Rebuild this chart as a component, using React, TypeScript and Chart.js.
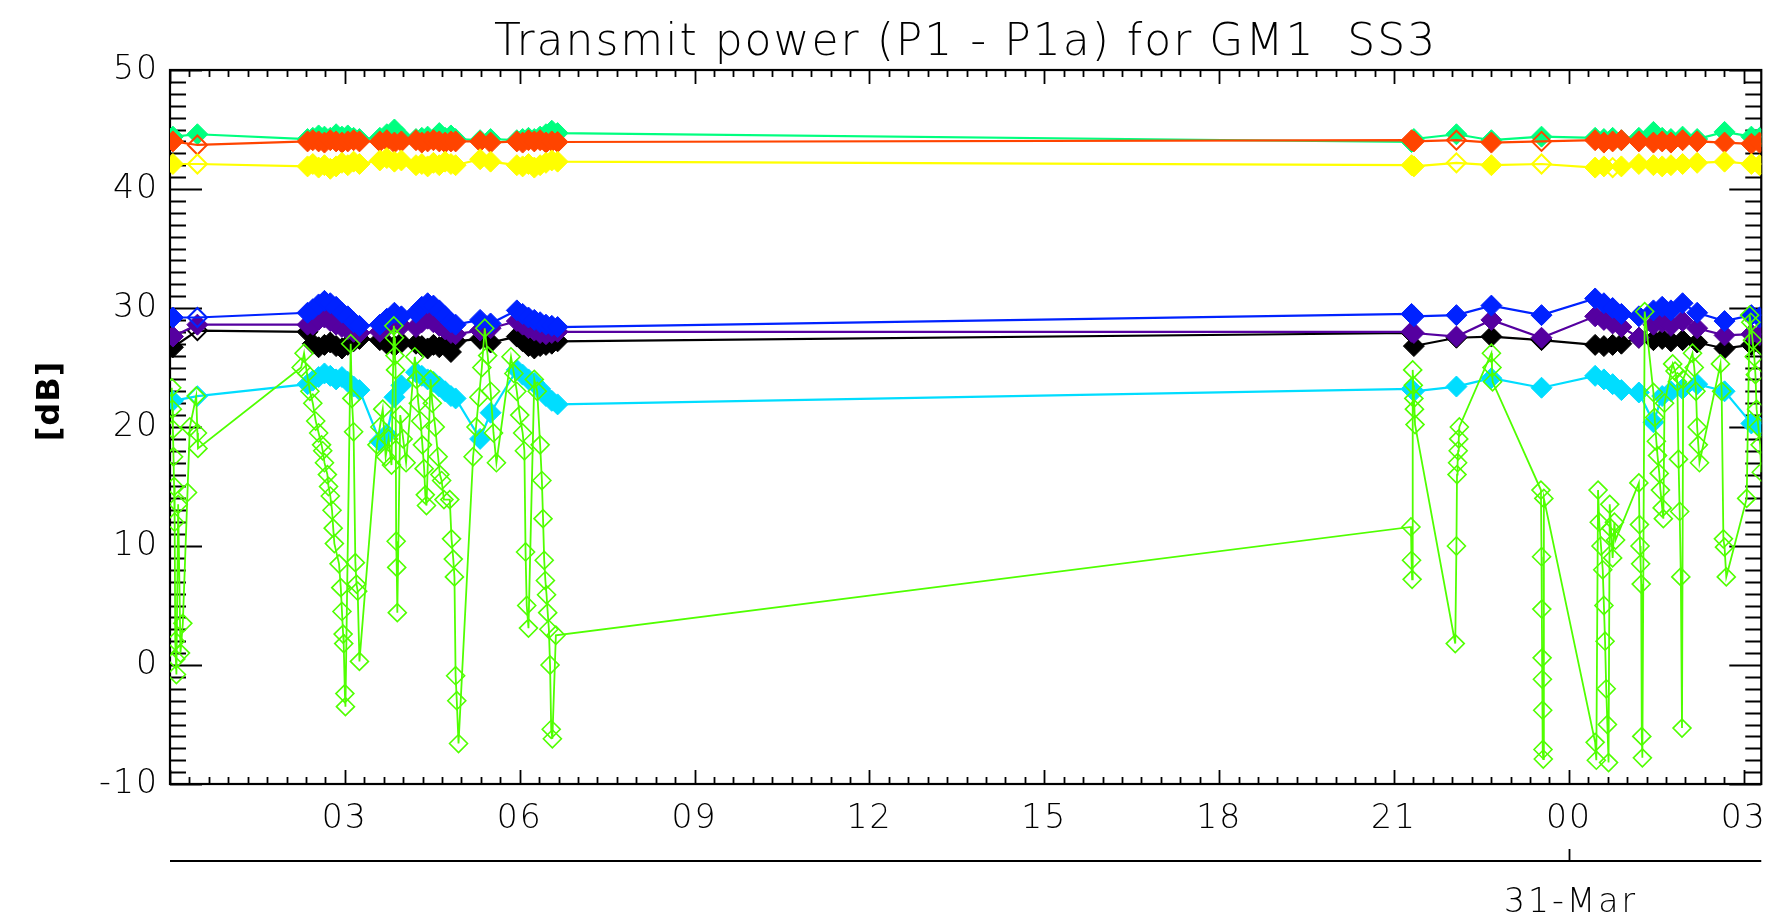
import React, { useEffect, useRef } from 'react';
import { Chart, registerables } from 'chart.js';

Chart.register(...registerables);

// ---------- data ----------
const TITLE = 'Transmit power (P1 - P1a) for GM1  SS3';
const Y_TITLE = '[dB]';
const DATE_LABEL = '31-Mar';
const DATE_LABEL_HOUR = 24;

// hours since 30-Mar 00:00
const hourTickValues = [3, 6, 9, 12, 15, 18, 21, 24, 27];
const hourTickLabels = ['03', '06', '09', '12', '15', '18', '21', '00', '03'];
const yTickValues = [-10, 0, 10, 20, 30, 40, 50];
const yTickLabels = ['-10', '0', '10', '20', '30', '40', '50'];

const times = [
  0.05, 0.47, 2.36, 2.45, 2.55, 2.65, 2.75, 2.85, 2.95, 3.05, 3.15, 3.25, 3.6, 3.72, 3.85, 3.97,
  4.22, 4.32, 4.42, 4.52, 4.62, 4.72, 4.82, 4.9, 5.32, 5.5, 5.95, 6.05, 6.15, 6.25, 6.35, 6.45,
  6.55, 6.65, 21.3, 21.34, 22.07, 22.67, 23.53, 24.45, 24.6, 24.75, 24.9, 25.2, 25.45, 25.6,
  25.75, 25.95, 26.2, 26.67, 27.13, 27.27,
];

const springGreenSeries = [
  44.4, 44.6, 44.2, 44.3, 44.5, 44.4, 44.3, 44.6, 44.4, 44.5, 44.3, 44.2, 44.3, 44.6, 45.0, 44.4,
  44.2, 44.3, 44.4, 44.2, 44.7, 44.3, 44.5, 44.2, 44.1, 44.2, 44.1, 44.2, 44.3, 44.2, 44.4, 44.6,
  44.9, 44.7, 43.95, 44.2, 44.6, 44.1, 44.4, 44.3, 44.2, 44.3, 44.1, 44.3, 44.8, 44.3,
  44.2, 44.4, 44.2, 44.8, 44.4, 44.3,
];

const redSeries = [
  44.0, 43.7, 44.0, 44.1, 44.0, 43.9, 44.1, 44.0, 43.9, 44.0, 44.1, 44.0, 44.0, 44.1, 43.9, 44.0,
  44.1, 43.9, 44.0, 44.1, 44.0, 43.9, 44.0, 44.0, 44.0, 43.9, 44.0, 43.9, 44.1, 44.0, 44.1, 43.9,
  44.0, 43.95, 44.1, 44.0, 44.1, 43.9, 44.0, 44.1, 43.9, 44.0, 44.1, 44.0, 43.9, 44.0,
  43.9, 44.1, 44.0, 43.9, 43.8, 43.9,
];

const yellowSeries = [
  42.1, 42.1, 41.9, 42.1, 41.8, 42.0, 41.7, 41.9, 42.2, 42.0, 42.3, 42.1, 42.4, 42.6, 42.3, 42.4,
  42.0, 42.1, 41.9, 42.2, 42.0, 42.3, 42.1, 42.0, 42.5, 42.3, 42.0, 41.9, 42.1, 41.8, 42.0, 42.2,
  42.4, 42.3, 42.0, 41.9, 42.2, 42.0, 42.1, 41.8, 41.9, 41.8, 41.9, 42.1, 42.0, 41.9,
  42.0, 42.1, 42.2, 42.3, 42.1, 42.0,
];

const blueSeries = [
  29.2, 29.2, 29.6, 29.9, 30.3, 30.6, 30.4, 30.1, 29.6, 29.3, 28.8, 28.5, 28.6, 29.1, 29.6, 29.3,
  29.6, 30.1, 30.4, 30.2, 29.8, 29.3, 28.8, 28.6, 29.0, 28.7, 29.8, 29.5, 29.2, 29.0, 28.8, 28.6,
  28.5, 28.4, 29.5, 29.3, 29.4, 30.2, 29.4, 30.8, 30.4, 30.0, 29.5, 29.3, 29.8, 30.1,
  29.8, 30.4, 29.6, 28.9, 29.4, 29.2,
];

const purpleSeries = [
  27.6, 28.6, 28.6, 28.6, 29.0, 29.2, 28.9, 28.6, 28.4, 28.2, 28.0, 27.9, 28.0, 28.4, 28.8, 28.5,
  28.4, 28.8, 29.1, 28.8, 28.5, 28.2, 27.9, 27.8, 28.1, 28.3, 28.9, 28.6, 28.3, 28.1, 27.9, 27.8,
  27.9, 28.0, 28.0, 27.9, 27.6, 29.0, 27.5, 29.3, 29.0, 28.7, 28.4, 27.5, 28.6, 28.8,
  28.5, 28.9, 28.3, 27.7, 27.8, 27.7,
];

const blackSeries = [
  26.7, 28.1, 28.0, 27.0, 26.7, 26.9, 27.1, 26.8, 26.6, 26.9, 27.2, 27.4, 27.3, 27.0, 26.8, 27.1,
  27.0, 26.8, 26.6, 26.9, 26.7, 27.0, 26.3, 27.2, 27.4, 27.1, 27.6, 27.2, 26.8, 26.6, 26.8, 26.9,
  27.0, 27.2, 27.9, 26.8, 27.5, 27.6, 27.3, 26.9, 26.8, 26.9, 27.0, 27.5, 27.3, 27.4,
  27.2, 27.3, 27.1, 26.6, 26.9, 27.0,
];

const cyanSeries = [
  22.2, 22.6, 23.6, 23.9, 24.2, 24.5, 24.3, 24.0, 24.2, 23.8, 23.4, 23.1, 18.8, 19.4, 22.5, 23.5,
  24.6, 24.3, 24.0, 23.8, 23.4, 23.0, 22.6, 22.4, 19.0, 21.2, 24.8, 24.4, 24.0, 23.7, 23.2, 22.6,
  22.2, 21.9, 23.2, 23.0, 23.4, 24.1, 23.3, 24.3, 24.0, 23.6, 23.1, 22.9, 20.4, 22.6,
  23.0, 23.2, 23.6, 23.0, 20.3, 20.0,
];

const greenTimes = [
  0.03, 0.04, 0.05, 0.06, 0.07, 0.08, 0.09, 0.1, 0.11, 0.14, 0.18, 0.22, 0.3, 0.34, 0.45, 0.47, 0.48,
  2.25, 2.3, 2.35, 2.4, 2.45, 2.5, 2.55, 2.6, 2.62, 2.65, 2.7, 2.72, 2.75, 2.78, 2.8, 2.82,
  2.9, 2.93, 2.95, 2.97, 2.98, 3.0, 3.01, 3.1, 3.12, 3.15, 3.18, 3.2, 3.22, 3.25,
  3.55, 3.6, 3.65, 3.7, 3.75, 3.8, 3.84, 3.85, 3.86, 3.87, 3.88, 3.89, 3.9, 3.95, 4.0, 4.05,
  4.2, 4.23, 4.26, 4.3, 4.33, 4.36, 4.38, 4.4, 4.47, 4.5, 4.55, 4.6, 4.63, 4.66, 4.7,
  4.8, 4.83, 4.86, 4.88, 4.9, 4.92, 4.95,
  5.2, 5.25, 5.3, 5.35, 5.4, 5.45, 5.5, 5.55, 5.6,
  5.85, 5.9, 5.95, 6.0, 6.05, 6.08, 6.1, 6.12, 6.15,
  6.25, 6.3, 6.35, 6.38, 6.4, 6.42, 6.44, 6.46, 6.48, 6.5, 6.52, 6.54, 6.56, 6.62,
  21.29, 21.3, 21.31, 21.32, 21.33, 21.34, 21.35, 21.36,
  22.05, 22.07, 22.08, 22.09, 22.1, 22.11, 22.12, 22.67, 22.68, 22.69,
  23.52, 23.53, 23.535, 23.54, 23.545, 23.55, 23.555, 23.56, 23.57,
  24.45, 24.47, 24.5, 24.52, 24.55, 24.58, 24.6, 24.62, 24.64, 24.66, 24.68, 24.7, 24.72, 24.75, 24.78, 24.8,
  25.2, 25.21, 25.22, 25.23, 25.24, 25.25, 25.26, 25.3,
  25.45, 25.47, 25.5, 25.52, 25.55, 25.57, 25.6, 25.62, 25.64,
  25.78, 25.82, 25.86, 25.88, 25.9, 25.92, 25.94, 25.96,
  26.12, 26.15, 26.18, 26.2, 26.22, 26.24,
  26.6, 26.62, 26.65, 26.67, 26.7,
  27.05, 27.1, 27.12, 27.15, 27.18, 27.2, 27.22, 27.25, 27.28, 27.3,
];

const greenValues = [
  23.3, 21.5, 19.8, 17.5, 15.0, 12.0, 2.0, 0.5, -0.8, 13.5, 1.0, 3.5, 14.5, 20.0, 22.6, 19.5, 18.2,
  25.0, 26.2, 24.5, 23.0, 22.0, 20.5, 19.5, 18.5, 18.0, 17.0, 16.0, 15.0, 14.2, 13.0, 11.5, 10.2,
  8.5, 6.5, 4.5, 2.6, 1.8, -2.4, -3.5, 27.0, 22.4, 19.6, 8.6, 6.8, 6.2, 0.3,
  18.5, 20.0, 21.5, 17.5, 19.0, 16.8, 28.5, 27.5, 26.0, 24.8, 10.4, 8.2, 4.4, 21.0, 19.0, 17.0,
  25.9, 24.0, 22.0, 20.5, 18.5, 16.5, 14.3, 13.4, 24.0, 22.0, 20.0, 17.5, 16.0, 15.5, 13.9,
  13.9, 10.6, 8.9, 7.4, -0.9, -3.0, -6.6,
  17.5, 20.0, 22.5, 25.0, 28.3, 26.0, 23.0, 19.5, 17.0,
  25.9, 24.5, 23.0, 21.0, 19.5, 18.0, 9.5, 5.0, 3.1,
  24.0, 23.0, 18.5, 15.5, 12.3, 8.8, 7.1, 5.9, 4.4, 3.0, 0.0, -5.4, -6.2, 2.5,
  11.6, 8.8, 7.2, 24.8, 23.5, 22.4, 21.5, 20.2,
  1.8, 10.0, 16.0, 17.0, 18.0, 19.0, 20.0, 26.2, 25.0, 23.8,
  14.7, 9.1, 4.7, 0.6, -1.2, -3.8, -7.1, -7.9, 14.0,
  -6.5, -8.0, 14.7, 12.0, 10.0, 8.0, 5.0, 2.0, -2.0, -5.0, -8.2, 13.5, 11.5, 9.0, 12.0, 10.5,
  15.3, 11.8, 10.0, 8.5, 6.8, -6.0, -7.8, 29.7,
  22.9, 20.8, 18.8, 17.6, 16.1, 14.7, 13.2, 12.3, 22.0,
  25.3, 24.7, 23.8, 17.3, 12.9, 7.4, -5.3, 24.0,
  26.2, 25.0, 23.0, 20.0, 18.5, 17.0,
  25.3, 23.0, 10.6, 9.9, 7.4,
  14.0, 29.4, 28.8, 27.3, 25.9, 24.4, 21.5, 20.0, 18.5, 16.2,
];

// ---------- layout / style ----------
const W = 1781;
const H = 922;
const PLOT_LEFT = 170;
const PLOT_RIGHT = 1763;
const PLOT_TOP = 70;
const PLOT_BOTTOM = 784;
const X_MIN = 0;
const X_MAX = 27.3;
const FONT = '"DejaVu Sans", "Liberation Sans", sans-serif';
// indices (into `times`) drawn as open diamonds, per series
const HOLLOW_ALL = [1];
const HOLLOW_RED = [1, 36, 38];
const HOLLOW_YELLOW = [1, 36, 38, 41];

export default function App() {
  const ref = useRef<HTMLCanvasElement | null>(null);

  useEffect(() => {
    const canvas = ref.current;
    if (!canvas) return;

    const pts = (xs: number[], ys: number[]) => xs.map((t, i) => ({ x: t, y: ys[i] }));

    const filled = (label: string, vals: number[], color: string, order: number, hollow: number[]) => ({
      label,
      data: pts(times, vals),
      borderColor: color,
      backgroundColor: color,
      pointBackgroundColor: vals.map((_, i) => (hollow.includes(i) ? 'rgba(255,255,255,0)' : color)),
      pointBorderColor: color,
      pointStyle: 'rectRot' as const,
      pointRadius: vals.map((_, i) => (hollow.includes(i) ? 9.5 : 10.5)),
      pointBorderWidth: vals.map((_, i) => (hollow.includes(i) ? 2 : 1)),
      borderWidth: 2.2,
      tension: 0,
      fill: false,
      order,
    });

    const frame = {
      id: 'idlFrame',
      beforeDraw(chart: any) {
        chart.ctx.letterSpacing = '2px';
      },
      beforeDatasetsDraw(chart: any) {
        const { ctx, chartArea: a, scales } = chart;
        ctx.letterSpacing = '0px';
        const xs = scales.x;
        const ys = scales.y;
        ctx.save();
        ctx.strokeStyle = '#000';
        ctx.lineWidth = 2.2;
        ctx.strokeRect(a.left, a.top, a.right - a.left, a.bottom - a.top);
        ctx.lineWidth = 1.8;
        ctx.beginPath();
        for (let k = 0; k / 3 <= X_MAX + 1e-6; k++) {
          const px = Math.round(xs.getPixelForValue(k / 3)) + 0.5;
          const len = k % 9 === 0 ? 14 : 7;
          ctx.moveTo(px, a.bottom);
          ctx.lineTo(px, a.bottom - len);
          ctx.moveTo(px, a.top);
          ctx.lineTo(px, a.top + len);
        }
        for (let v = -10; v <= 50; v++) {
          const py = Math.round(ys.getPixelForValue(v)) + 0.5;
          const len = v % 10 === 0 ? 32 : 16;
          ctx.moveTo(a.left, py);
          ctx.lineTo(a.left + len, py);
          ctx.moveTo(a.right, py);
          ctx.lineTo(a.right - len, py);
        }
        ctx.stroke();
        ctx.restore();
      },
      afterDraw(chart: any) {
        const { ctx, chartArea: a, scales } = chart;
        const xs = scales.x;
        ctx.save();
        ctx.strokeStyle = '#000';
        ctx.fillStyle = '#000';
        // date axis
        const dy = 861;
        const dx = Math.round(xs.getPixelForValue(DATE_LABEL_HOUR)) + 0.5;
        ctx.lineWidth = 2.2;
        ctx.beginPath();
        ctx.moveTo(a.left, dy);
        ctx.lineTo(a.right, dy);
        ctx.stroke();
        ctx.lineWidth = 1.8;
        ctx.beginPath();
        ctx.moveTo(dx, dy);
        ctx.lineTo(dx, dy - 12);
        ctx.stroke();
        ctx.letterSpacing = '3px';
        ctx.font = `200 33px ${FONT}`;
        ctx.textAlign = 'center';
        ctx.textBaseline = 'middle';
        ctx.fillText(DATE_LABEL, dx + 1.5, 903);
        // y axis title
        ctx.letterSpacing = '1px';
        ctx.translate(51, 401);
        ctx.rotate(-Math.PI / 2);
        ctx.font = `bold 32px ${FONT}`;
        ctx.fillText(Y_TITLE, 0, 0);
        ctx.restore();
        ctx.letterSpacing = '0px';
      },
    };

    const chart = new Chart(canvas, {
      type: 'line',
      data: {
        datasets: [
          filled('P1 ch1', springGreenSeries, '#00FF7F', 8, []),
          filled('P1 ch2', redSeries, '#FF4400', 7, HOLLOW_RED),
          filled('P1 ch3', yellowSeries, '#FFFF00', 6, HOLLOW_YELLOW),
          filled('P1 ch6', blackSeries, '#000000', 5, HOLLOW_ALL),
          filled('P1 ch5', purpleSeries, '#5500A0', 4, []),
          filled('P1 ch4', blueSeries, '#0022FF', 3, HOLLOW_ALL),
          filled('P1 ch7', cyanSeries, '#00DDFF', 2, HOLLOW_ALL),
          {
            label: 'P1 ch8',
            data: pts(greenTimes, greenValues),
            borderColor: '#50FF00',
            backgroundColor: 'rgba(0,0,0,0)',
            pointBackgroundColor: 'rgba(0,0,0,0)',
            pointBorderColor: '#50FF00',
            pointStyle: 'rectRot' as const,
            pointRadius: 9,
            pointBorderWidth: 1.6,
            borderWidth: 1.8,
            tension: 0,
            fill: false,
            order: 1,
          },
        ],
      },
      options: {
        responsive: false,
        animation: false,
        devicePixelRatio: 1,
        layout: { padding: { left: 0, right: W - PLOT_RIGHT, top: 0, bottom: 0 } },
        plugins: {
          legend: { display: false },
          tooltip: { enabled: false },
          title: {
            display: true,
            fullSize: false,
            text: TITLE,
            color: '#000',
            font: { family: FONT, size: 44, weight: '200' as any, lineHeight: 1.2 },
            padding: { top: 17, bottom: PLOT_TOP - 17 - 44 * 1.2 },
          },
        },
        scales: {
          x: {
            type: 'linear',
            min: X_MIN,
            max: X_MAX,
            afterBuildTicks: (s: any) => {
              s.ticks = hourTickValues.map((v) => ({ value: v }));
            },
            afterFit: (s: any) => {
              s.height = H - PLOT_BOTTOM;
            },
            grid: { display: false, drawTicks: false },
            border: { display: false },
            ticks: {
              padding: 16,
              maxRotation: 0,
              autoSkip: false,
              color: '#000',
              font: { family: FONT, size: 33, weight: '200' as any },
              callback: (_v: any, i: number) => hourTickLabels[i],
            },
          },
          y: {
            type: 'linear',
            min: -10,
            max: 50,
            afterBuildTicks: (s: any) => {
              s.ticks = yTickValues.map((v) => ({ value: v }));
            },
            afterFit: (s: any) => {
              s.width = PLOT_LEFT;
            },
            grid: { display: false, drawTicks: false },
            border: { display: false },
            ticks: {
              padding: 11,
              color: '#000',
              font: { family: FONT, size: 33, weight: '200' as any },
              callback: (_v: any, i: number) => yTickLabels[i],
            },
          },
        },
      },
      plugins: [frame],
    });

    return () => chart.destroy();
  }, []);

  return (
    <div style={{ position: 'fixed', left: 0, top: 0, width: W, height: H, background: '#fff' }}>
      <canvas ref={ref} width={W} height={H} style={{ width: W, height: H, display: 'block' }} />
    </div>
  );
}
